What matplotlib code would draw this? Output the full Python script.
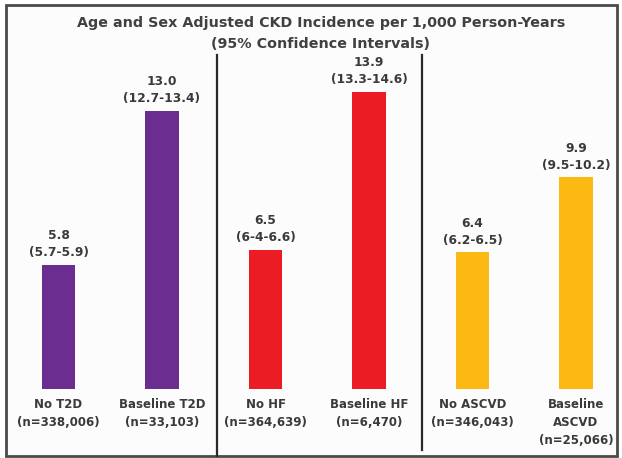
import matplotlib

matplotlib.use("Agg")
import matplotlib.pyplot as plt
from matplotlib.patches import Rectangle

# data
categories = [["No T2D", "(n=338,006)"], ["Baseline T2D", "(n=33,103)"],
              ["No HF", "(n=364,639)"], ["Baseline HF", "(n=6,470)"],
              ["No ASCVD", "(n=346,043)"], ["Baseline", "ASCVD", "(n=25,066)"]]
incidence = [5.8, 13.0, 6.5, 13.9, 6.4, 9.9]
ci_labels = ["(5.7-5.9)", "(12.7-13.4)", "(6-4-6.6)",
             "(13.3-14.6)", "(6.2-6.5)", "(9.5-10.2)"]
bar_colors = ["#6b2d90", "#6b2d90", "#ec1c24", "#ec1c24", "#fcb913", "#fcb913"]
title_lines = ["Age and Sex Adjusted CKD Incidence per 1,000 Person-Years",
               "(95% Confidence Intervals)"]

W, H = 622, 458
fig = plt.figure(figsize=(W / 100, H / 100), dpi=100)
fig.patch.set_facecolor("white")

# pixel layout: bar centres 58.5 + 103.5*i, baseline at y=389 px, 21.4 px per unit
x0, dx = 58.5, 103.5
y_base, ppu = 389.0, 21.4
ax = fig.add_axes([0, 0, 1, 1])
ax.set_xlim(-x0 / dx, (W - x0) / dx)
ax.set_ylim(-(H - y_base) / ppu, y_base / ppu)
ax.axis("off")

txt = "#3a3a3a"
fnt = "DejaVu Sans"
PT = 72 / 100  # points per pixel


def px(x, y):
    # figure pixel (from top-left) -> axes fraction
    return x / W, 1 - y / H


# outer frame
bx0, by0 = px(6, 5)
bx1, by1 = px(617, 456)
ax.add_patch(Rectangle((bx0, by1), bx1 - bx0, by0 - by1, transform=ax.transAxes,
                       facecolor="#fcfcfc", edgecolor="#4a4a4a", lw=2.0, zorder=0))

# group dividers
for xd, yb in [(217, 456), (422, 450)]:
    (xa, ya0), (_, ya1) = px(xd, 55), px(xd, yb)
    ax.plot([xa, xa], [ya0, ya1], transform=ax.transAxes, color="#2a2a2a", lw=1.6)

idx = list(range(len(incidence)))
ax.bar(idx, incidence, width=0.32, color=bar_colors, zorder=2)

for i, (v, ci) in enumerate(zip(incidence, ci_labels)):
    for line, off in [(f"{v:.1f}", 29), (ci, 12)]:
        ax.annotate(line, (i, v), xytext=(0, off * PT), textcoords="offset points",
                    ha="center", va="center", fontsize=8.8, fontweight="bold",
                    color=txt, family=fnt)

for i, lines in enumerate(categories):
    for k, line in enumerate(lines):
        ax.annotate(line, (i, 0), xytext=(0, -(16 + 18 * k) * PT),
                    textcoords="offset points", ha="center", va="center",
                    fontsize=8.5, fontweight="bold", color=txt, family=fnt)

for line, yy in zip(title_lines, [23, 44]):
    tx, ty = px(321, yy)
    ax.text(tx, ty, line, transform=ax.transAxes, ha="center", va="center",
            fontsize=10.3, fontweight="bold", color="#404040", family=fnt)

fig.savefig("out.png", dpi=100)
plt.close(fig)
